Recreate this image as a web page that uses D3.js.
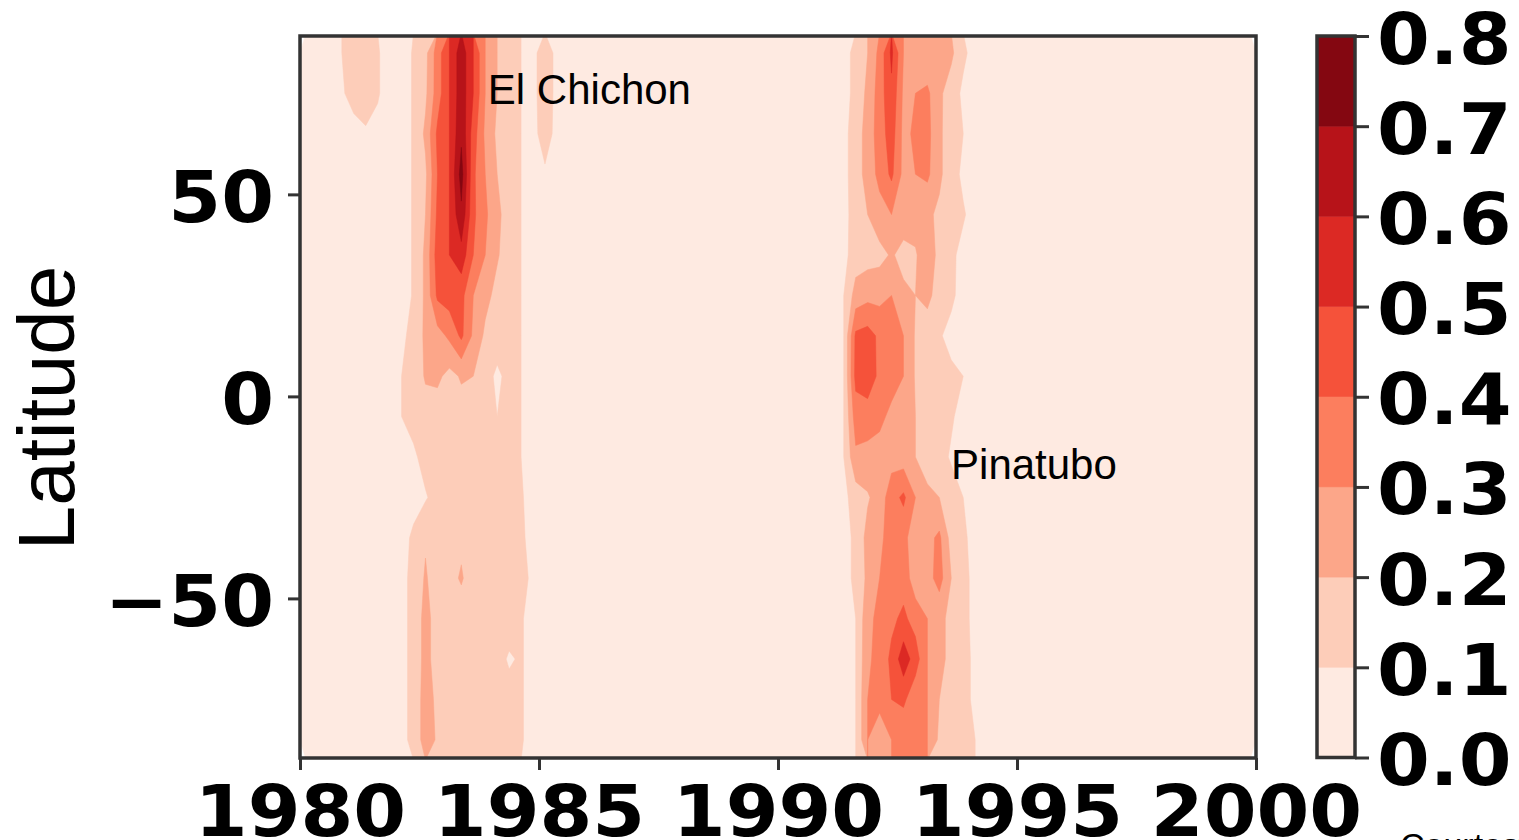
<!DOCTYPE html>
<html>
<head>
    <meta charset="utf-8">
    <title>Aerosol optical depth (El Chichon / Pinatubo)</title>
    <script src="https://d3js.org/d3.v7.min.js"></script>
    <style type="text/css">
        body {
            margin: 0;
            background-color: #fff;
        }

        .annot {
            font-family: "Liberation Sans", Arial, sans-serif;
            fill: #000;
        }
    </style>
</head>
<body>

<div id="chart"></div>

<script type="text/javascript">
    // grid: quarterly columns from 1980 to 2000, 10 degree latitude bands (row centres)
    const timeStart = 1980, timeEnd = 2000, timeStep = 0.25;
    const latitudes = [85, 75, 65, 55, 45, 35, 25, 15, 5, -5, -15, -25, -35, -45, -55, -65, -75, -85];
    const latStep = 10;
    const background = 0.05;

    const levels = [0, 0.1, 0.2, 0.3, 0.4, 0.5, 0.6, 0.7, 0.8];
    const levelColors = ["#feeae1", "#fdcdb9", "#fca689", "#fc7e5e", "#f5523a", "#dc2924", "#b71319", "#840711"];

    const xTicks = [1980, 1985, 1990, 1995, 2000];
    const yTicks = [-50, 0, 50];

    // El Chichon window, first column centred on 1980.875, one row per latitude band
    const chichonStart = 1980.875;
    const chichon = [
        [0.10, 0.14, 0.14, 0.11, 0.05, 0.05, 0.11, 0.17, 0.35, 0.50, 0.66, 0.50, 0.30, 0.20, 0.15, 0.10, 0.08, 0.14, 0.08, 0.05],
        [0.09, 0.13, 0.14, 0.11, 0.05, 0.05, 0.11, 0.18, 0.35, 0.50, 0.66, 0.50, 0.30, 0.20, 0.15, 0.10, 0.08, 0.14, 0.08, 0.05],
        [0.05, 0.07, 0.09, 0.07, 0.05, 0.05, 0.11, 0.22, 0.42, 0.50, 0.68, 0.45, 0.28, 0.18, 0.14, 0.10, 0.08, 0.13, 0.08, 0.05],
        [0.05, 0.05, 0.05, 0.05, 0.05, 0.05, 0.11, 0.18, 0.40, 0.50, 0.74, 0.42, 0.30, 0.20, 0.14, 0.10, 0.07, 0.09, 0.06, 0.05],
        [0.05, 0.05, 0.05, 0.05, 0.05, 0.05, 0.11, 0.20, 0.42, 0.50, 0.68, 0.42, 0.32, 0.22, 0.16, 0.10, 0.07, 0.06, 0.05, 0.05],
        [0.05, 0.05, 0.05, 0.05, 0.05, 0.05, 0.11, 0.22, 0.45, 0.50, 0.56, 0.40, 0.30, 0.21, 0.15, 0.10, 0.06, 0.05, 0.05, 0.05],
        [0.05, 0.05, 0.05, 0.05, 0.05, 0.05, 0.11, 0.22, 0.42, 0.45, 0.43, 0.30, 0.23, 0.17, 0.14, 0.10, 0.06, 0.05, 0.05, 0.05],
        [0.05, 0.05, 0.05, 0.05, 0.05, 0.08, 0.13, 0.22, 0.26, 0.32, 0.42, 0.28, 0.18, 0.15, 0.14, 0.10, 0.06, 0.05, 0.05, 0.05],
        [0.05, 0.05, 0.05, 0.05, 0.05, 0.10, 0.14, 0.21, 0.22, 0.17, 0.21, 0.20, 0.14, 0.08, 0.13, 0.10, 0.06, 0.05, 0.05, 0.05],
        [0.05, 0.05, 0.05, 0.05, 0.05, 0.10, 0.14, 0.16, 0.15, 0.15, 0.16, 0.15, 0.14, 0.10, 0.14, 0.10, 0.06, 0.05, 0.05, 0.05],
        [0.05, 0.05, 0.05, 0.05, 0.05, 0.06, 0.08, 0.14, 0.15, 0.15, 0.15, 0.15, 0.15, 0.14, 0.14, 0.10, 0.06, 0.05, 0.05, 0.05],
        [0.05, 0.05, 0.05, 0.05, 0.05, 0.05, 0.06, 0.09, 0.14, 0.15, 0.15, 0.15, 0.15, 0.15, 0.14, 0.11, 0.06, 0.05, 0.05, 0.05],
        [0.05, 0.05, 0.05, 0.05, 0.05, 0.06, 0.12, 0.19, 0.15, 0.17, 0.18, 0.15, 0.15, 0.15, 0.15, 0.12, 0.06, 0.05, 0.05, 0.05],
        [0.05, 0.05, 0.05, 0.05, 0.05, 0.06, 0.14, 0.21, 0.15, 0.17, 0.21, 0.15, 0.15, 0.15, 0.15, 0.13, 0.08, 0.05, 0.05, 0.05],
        [0.05, 0.05, 0.05, 0.05, 0.05, 0.06, 0.14, 0.23, 0.16, 0.15, 0.15, 0.15, 0.15, 0.14, 0.14, 0.11, 0.06, 0.05, 0.05, 0.05],
        [0.05, 0.05, 0.05, 0.05, 0.05, 0.06, 0.14, 0.23, 0.16, 0.15, 0.15, 0.15, 0.14, 0.13, 0.09, 0.11, 0.06, 0.05, 0.05, 0.05],
        [0.05, 0.05, 0.05, 0.05, 0.05, 0.06, 0.14, 0.24, 0.18, 0.15, 0.15, 0.15, 0.14, 0.14, 0.13, 0.11, 0.06, 0.05, 0.05, 0.05],
        [0.05, 0.05, 0.05, 0.05, 0.05, 0.06, 0.14, 0.24, 0.19, 0.19, 0.20, 0.16, 0.14, 0.14, 0.13, 0.11, 0.06, 0.05, 0.05, 0.05]
    ];

    // Pinatubo window, first column centred on 1991.125
    const pinatuboStart = 1991.125;
    const pinatubo = [
        [0.05, 0.05, 0.14, 0.20, 0.33, 0.52, 0.30, 0.24, 0.22, 0.22, 0.22, 0.12, 0.06, 0.05, 0.05],
        [0.05, 0.05, 0.14, 0.22, 0.35, 0.48, 0.28, 0.30, 0.32, 0.22, 0.15, 0.08, 0.05, 0.05, 0.05],
        [0.05, 0.07, 0.15, 0.24, 0.35, 0.45, 0.27, 0.32, 0.33, 0.22, 0.14, 0.10, 0.05, 0.05, 0.05],
        [0.05, 0.07, 0.15, 0.24, 0.33, 0.42, 0.27, 0.30, 0.32, 0.22, 0.14, 0.08, 0.05, 0.05, 0.05],
        [0.05, 0.07, 0.14, 0.20, 0.26, 0.30, 0.25, 0.24, 0.22, 0.18, 0.15, 0.11, 0.06, 0.05, 0.05],
        [0.05, 0.07, 0.15, 0.16, 0.17, 0.21, 0.17, 0.19, 0.26, 0.17, 0.12, 0.07, 0.05, 0.05, 0.05],
        [0.05, 0.10, 0.24, 0.27, 0.27, 0.30, 0.22, 0.20, 0.23, 0.15, 0.12, 0.06, 0.05, 0.05, 0.05],
        [0.05, 0.10, 0.42, 0.44, 0.38, 0.35, 0.30, 0.19, 0.14, 0.11, 0.07, 0.05, 0.05, 0.05, 0.05],
        [0.05, 0.10, 0.43, 0.45, 0.38, 0.35, 0.30, 0.19, 0.15, 0.14, 0.12, 0.10, 0.06, 0.05, 0.05],
        [0.05, 0.10, 0.35, 0.36, 0.33, 0.27, 0.22, 0.20, 0.16, 0.14, 0.11, 0.07, 0.05, 0.05, 0.05],
        [0.05, 0.10, 0.28, 0.26, 0.25, 0.26, 0.25, 0.20, 0.16, 0.13, 0.09, 0.06, 0.05, 0.05, 0.05],
        [0.05, 0.07, 0.15, 0.19, 0.24, 0.36, 0.42, 0.30, 0.22, 0.20, 0.14, 0.10, 0.06, 0.05, 0.05],
        [0.05, 0.05, 0.13, 0.23, 0.28, 0.34, 0.33, 0.24, 0.27, 0.32, 0.16, 0.12, 0.06, 0.05, 0.05],
        [0.05, 0.05, 0.13, 0.22, 0.30, 0.38, 0.36, 0.24, 0.26, 0.34, 0.20, 0.13, 0.07, 0.05, 0.05],
        [0.05, 0.05, 0.10, 0.27, 0.33, 0.38, 0.42, 0.36, 0.30, 0.22, 0.18, 0.12, 0.08, 0.05, 0.05],
        [0.05, 0.05, 0.10, 0.28, 0.34, 0.42, 0.56, 0.45, 0.30, 0.22, 0.18, 0.13, 0.08, 0.05, 0.05],
        [0.05, 0.05, 0.10, 0.30, 0.33, 0.40, 0.42, 0.33, 0.30, 0.20, 0.17, 0.13, 0.08, 0.05, 0.05],
        [0.05, 0.05, 0.10, 0.30, 0.24, 0.30, 0.32, 0.33, 0.30, 0.18, 0.15, 0.14, 0.10, 0.06, 0.05]
    ];

    const annotations = [
        { text: "El Chichon", year: 1983.93, lat: 72.3 },
        { text: "Pinatubo", year: 1993.62, lat: -20.5 }
    ];

    const width = 1519, height = 840;
    const plot = { left: 300, right: 1256, top: 36, bottom: 758 };
    const cbar = { left: 1317, right: 1355, top: 36, bottom: 757.5 };
    const digitStretch = 1.07;   // tick labels look a bit wider than plain DejaVu Bold

    // build the full grid, background outside the two eruption windows
    const nCols = Math.round((timeEnd - timeStart) / timeStep);
    const nRows = latitudes.length;
    const values = new Array(nCols * nRows).fill(background);

    function place(rows, start) {
        const c0 = Math.round((start - timeStart) / timeStep - 0.5);
        rows.forEach((row, j) => row.forEach((v, i) => { values[j * nCols + c0 + i] = v; }));
    }
    place(chichon, chichonStart);
    place(pinatubo, pinatuboStart);

    const x = d3.scaleLinear().domain([timeStart, timeEnd]).range([plot.left, plot.right]);
    const y = d3.scaleLinear().domain([-89.5, 89.2]).range([plot.bottom, plot.top]);
    const yc = d3.scaleLinear().domain([levels[0], levels[levels.length - 1]]).range([cbar.bottom, cbar.top]);

    const svg = d3.select("#chart").append("svg")
        .attr("width", width)
        .attr("height", height)
        .style("display", "block");

    svg.append("defs").append("clipPath")
        .attr("id", "plot-clip")
        .append("rect")
        .attr("x", plot.left)
        .attr("y", plot.top)
        .attr("width", plot.right - plot.left)
        .attr("height", plot.bottom - plot.top);

    // filled contours
    const contours = d3.contours()
        .size([nCols, nRows])
        .thresholds(levels.slice(0, -1))(values);

    const latTop = latitudes[0] + latStep / 2;
    const gridToPlot = d3.geoTransform({
        point: function (gx, gy) {
            this.stream.point(x(timeStart + gx * timeStep), y(latTop - gy * latStep));
        }
    });
    const path = d3.geoPath(gridToPlot);

    svg.append("g")
        .attr("clip-path", "url(#plot-clip)")
        .selectAll("path")
        .data(contours)
        .join("path")
        .attr("d", path)
        .attr("fill", (d, i) => levelColors[i])
        .attr("stroke", (d, i) => levelColors[i])
        .attr("stroke-width", 0.5);

    // axes
    function styleAxis(g, dx, dy, anchor) {
        g.select(".domain").remove();
        g.attr("font-family", "'DejaVu Sans', sans-serif")
            .attr("font-size", 71)
            .attr("font-weight", "bold");
        g.selectAll(".tick line").attr("stroke", "#333").attr("stroke-width", 3);
        g.selectAll(".tick text")
            .attr("x", null)
            .attr("y", null)
            .attr("dy", null)
            .attr("fill", "#000")
            .attr("text-anchor", anchor)
            .attr("transform", `translate(${dx},${dy}) scale(${digitStretch},1)`);
    }

    svg.append("g")
        .attr("transform", `translate(0,${plot.bottom})`)
        .call(d3.axisBottom(x).tickValues(xTicks).tickSize(12).tickFormat(d3.format("d")))
        .call(g => styleAxis(g, 0, 78, "middle"));

    svg.append("g")
        .attr("transform", `translate(${plot.left},0)`)
        .call(d3.axisLeft(y).tickValues(yTicks).tickSize(12).tickFormat(d3.format("d")))
        .call(g => styleAxis(g, -26, 27, "end"));

    // frame
    svg.append("rect")
        .attr("x", plot.left)
        .attr("y", plot.top)
        .attr("width", plot.right - plot.left)
        .attr("height", plot.bottom - plot.top)
        .attr("fill", "none")
        .attr("stroke", "#333")
        .attr("stroke-width", 3.5);

    // colorbar
    svg.append("g")
        .selectAll("rect")
        .data(levelColors)
        .join("rect")
        .attr("x", cbar.left)
        .attr("width", cbar.right - cbar.left)
        .attr("y", (d, i) => yc(levels[i + 1]))
        .attr("height", (d, i) => yc(levels[i]) - yc(levels[i + 1]))
        .attr("fill", d => d)
        .attr("stroke", d => d)
        .attr("stroke-width", 0.5);

    svg.append("g")
        .attr("transform", `translate(${cbar.right},0)`)
        .call(d3.axisRight(yc).tickValues(levels).tickSize(14).tickFormat(d3.format(".1f")))
        .call(g => styleAxis(g, 22, 27, "start"));

    svg.append("rect")
        .attr("x", cbar.left)
        .attr("y", cbar.top)
        .attr("width", cbar.right - cbar.left)
        .attr("height", cbar.bottom - cbar.top)
        .attr("fill", "none")
        .attr("stroke", "#333")
        .attr("stroke-width", 3.5);

    // labels
    svg.append("text")
        .attr("class", "annot")
        .attr("transform", "translate(74,408) rotate(-90)")
        .attr("text-anchor", "middle")
        .attr("font-size", 80)
        .text("Latitude");

    svg.append("g")
        .selectAll("text")
        .data(annotations)
        .join("text")
        .attr("class", "annot")
        .attr("x", d => x(d.year))
        .attr("y", d => y(d.lat))
        .attr("font-size", 42)
        .text(d => d.text);

    svg.append("text")
        .attr("class", "annot")
        .attr("x", 1400)
        .attr("y", 857)
        .attr("font-size", 34)
        .text("Courtesy");
</script>

</body>
</html>
